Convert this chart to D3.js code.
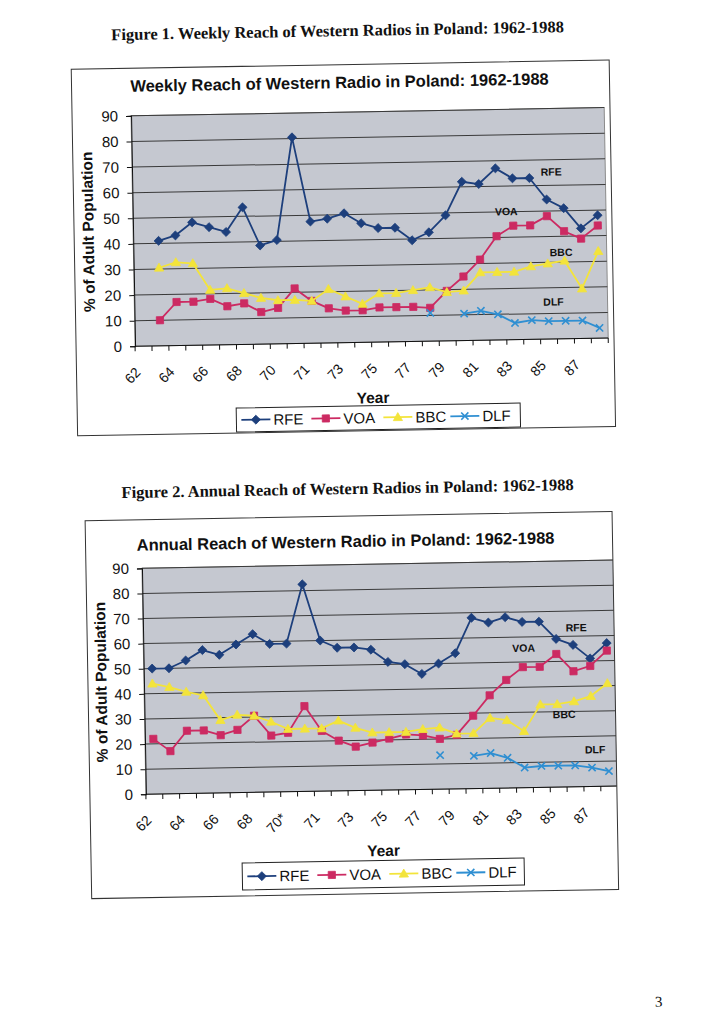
<!DOCTYPE html>
<html><head><meta charset="utf-8">
<script src="https://cdn.jsdelivr.net/npm/d3@7"></script>
<style>body{margin:0;background:#fff}svg{display:block}</style>
</head><body>
<svg id="page" width="706" height="1024"></svg>
<script>
// ---------- DATA ----------
const categories = ["62","63","64","65","66","67","68","69","70a","70b","71","72","73","74","75","76","77","78","79","80","81","82","83","84","85","86","87","88"];
const weeklyTickLabels = ["62","64","66","68","70","71","73","75","77","79","81","83","85","87"];
const annualTickLabels = ["62","64","66","68","70*","71","73","75","77","79","81","83","85","87"];
const yTickValues = [0,10,20,30,40,50,60,70,80,90];
const seriesNames = ["RFE","VOA","BBC","DLF"];

const weeklyRFE = [null,41,43,48,46,44,53.5,38.5,40.5,80.5,47.5,48.5,50.5,46.5,44.5,44.5,39.5,42.5,49,62,61,67,63,63,54.5,51,43,48];
const weeklyVOA = [null,10,17,17,18,15,16,12.5,14,21.5,16.5,13.5,12.5,12.5,13.5,13.5,13.5,13,19.5,25,31.5,40.5,44.5,44.5,48,42,39,44];
const weeklyBBC = [null,30.5,32.5,32,21.5,22,20,18,17,17,16.5,21,18,15,19,19,20,21,19,19.5,26.5,26.5,26.5,28.5,29.5,30.5,19.5,34];
const weeklyDLF = [null,null,null,null,null,null,null,null,null,null,null,null,null,null,null,null,null,11,null,10.5,11.5,10,6.5,7.5,7,7,7,4];

const annualRFE = [50,50,53,57,55,59,63,59,59,82.5,60,57,57,56,51,50,46,50,54,68,66,68,66,66,59,56.5,51,57];
const annualVOA = [22,17,25,25,23,25,30.5,22.5,23.5,34,24,20,17.5,19,20.5,22,21.5,20,21.5,29,37,43,48,48,53,46,48,54];
const annualBBC = [44,42.5,40.5,39,29,31,30.5,28,25,25,25,28,25,23,23,23,24,24.5,22,22,28,27,22.5,33,33,34,36,41];
const annualDLF = [null,null,null,null,null,null,null,null,null,null,null,null,null,null,null,null,null,13.5,null,13,14,12,8,8.5,8.5,8.5,7.5,6];

// ---------- STYLE ----------
const colors = {RFE:"#1d3f7c", VOA:"#cc2a62", BBC:"#f3e43a", DLF:"#2f8fd2"};
const markers = {
  RFE:"M0,-4.5L4.5,0L0,4.5L-4.5,0Z",
  VOA:"M-3.6,-3.6H3.6V3.6H-3.6Z",
  BBC:"M0,-4.6L4.6,3.4L-4.6,3.4Z",
  DLF:"M-3.6,-3.6L3.6,3.6M-3.6,3.6L3.6,-3.6"
};
const SANS = "'Liberation Sans', Arial, sans-serif";
const SERIF = "'Liberation Serif', 'Times New Roman', serif";

const svg = d3.select("#page");
const defs = svg.append("defs");
const root = svg.append("g").attr("transform","rotate(-1,353,512)");

function drawChart(cfg){
  const g = root.append("g");
  const b = cfg.box;
  defs.append("clipPath").attr("id", cfg.id+"clip").append("rect")
    .attr("x", b.x0).attr("y", b.y0).attr("width", b.x1-b.x0).attr("height", b.y1-b.y0);
  g.append("rect").attr("x", b.x0).attr("y", b.y0).attr("width", b.x1-b.x0).attr("height", b.y1-b.y0)
    .attr("fill","#fff");
  const c = g.append("g").attr("clip-path", `url(#${cfg.id}clip)`);
  const p = cfg.plot;
  const x = d3.scaleBand().domain(categories).range([p.left, p.right]);
  const y = d3.scaleLinear().domain([0,90]).range([p.bottom, p.top]);

  // title
  c.append("text").attr("x", cfg.titleX).attr("y", cfg.titleY).attr("text-anchor","middle")
    .attr("font-family", SANS).attr("font-weight","bold").attr("font-size", 16.5).attr("fill","#111")
    .text(cfg.title);

  // plot area
  c.append("rect").attr("x", p.left).attr("y", p.top).attr("width", p.right-p.left).attr("height", p.bottom-p.top)
    .attr("fill","#c5c8d0").attr("stroke","#8a8a8a").attr("stroke-width",1);
  c.append("g").selectAll("line").data(yTickValues.filter(v=>v>0)).join("line")
    .attr("x1", p.left).attr("x2", p.right).attr("y1", d=>y(d)).attr("y2", d=>y(d))
    .attr("stroke","#3a3a3a").attr("stroke-width",1);

  // y axis
  const ya = c.append("g").attr("transform", `translate(${p.left},0)`)
    .call(d3.axisLeft(y).tickValues(yTickValues).tickSize(5).tickPadding(8).tickFormat(d3.format("d")));
  ya.select(".domain").attr("stroke","#111");
  ya.selectAll(".tick line").attr("stroke","#111");
  ya.selectAll("text").attr("font-family", SANS).attr("font-size", 15).attr("fill","#111");

  // x axis
  c.append("line").attr("x1", p.left).attr("x2", p.right).attr("y1", p.bottom).attr("y2", p.bottom).attr("stroke","#111");
  const bounds = categories.map(d=>x(d)).concat([x(categories[categories.length-1]) + x.bandwidth()]);
  c.append("g").selectAll("line").data(bounds).join("line")
    .attr("x1", d=>d).attr("x2", d=>d).attr("y1", p.bottom).attr("y2", p.bottom+5).attr("stroke","#111");
  const labeled = categories.filter((d,i)=>i%2===0).map((d,i)=>({cat:d, label: cfg.tickLabels[i]}));
  c.append("g").selectAll("text").data(labeled).join("text")
    .attr("transform", d=>`translate(${x(d.cat)+x.bandwidth()/2-2.5},${p.bottom+27}) rotate(-45)`)
    .attr("text-anchor","end").attr("font-family", SANS).attr("font-size", 14).attr("fill","#111")
    .text(d=>d.label);

  // axis titles
  c.append("text").attr("transform", `translate(${cfg.yTitleX},${(p.top+p.bottom)/2}) rotate(-90)`)
    .attr("text-anchor","middle").attr("dominant-baseline","central")
    .attr("font-family", SANS).attr("font-weight","bold").attr("font-size", 15.5).attr("fill","#111")
    .text("% of Adult Population");
  c.append("text").attr("x", cfg.xTitleX).attr("y", cfg.xTitleY).attr("text-anchor","middle")
    .attr("font-family", SANS).attr("font-weight","bold").attr("font-size", 15.5).attr("fill","#111")
    .text("Year");

  // series
  const line = d3.line().defined(d=>d.v!=null).x(d=>x(d.c)+x.bandwidth()/2).y(d=>y(d.v));
  cfg.series.forEach((vals, si)=>{
    const name = seriesNames[si];
    const pts = vals.map((v,i)=>({c:categories[i], v}));
    c.append("path").datum(pts).attr("d", line).attr("fill","none")
      .attr("stroke", colors[name]).attr("stroke-width", 1.8).attr("stroke-linejoin","round");
    c.append("g").selectAll("path").data(pts.filter(d=>d.v!=null)).join("path")
      .attr("transform", d=>`translate(${x(d.c)+x.bandwidth()/2},${y(d.v)})`)
      .attr("d", markers[name])
      .attr("fill", name==="DLF" ? "none" : colors[name])
      .attr("stroke", colors[name]).attr("stroke-width", name==="DLF"?1.6:0.8);
  });

  // in-plot labels
  cfg.notes.forEach(n=>{
    c.append("text").attr("x", p.left + (n.at+0.5)*x.step()).attr("y", y(n.value))
      .attr("text-anchor","middle").attr("dominant-baseline","central")
      .attr("font-family", SANS).attr("font-weight","bold").attr("font-size", 10.5).attr("fill","#111")
      .text(n.label);
  });

  // legend
  const L = cfg.legend;
  const lg = c.append("g").attr("transform", `translate(${L.x},${L.y})`);
  lg.append("rect").attr("x",0).attr("y",-L.h/2).attr("width", L.w).attr("height", L.h)
    .attr("fill","#fff").attr("stroke","#222").attr("stroke-width",1);
  const offs = [5, 75, 147, 214];
  seriesNames.forEach((name,i)=>{
    const it = lg.append("g").attr("transform", `translate(${offs[i]},0)`);
    it.append("line").attr("x1",0).attr("x2",29).attr("y1",0).attr("y2",0).attr("stroke", colors[name]).attr("stroke-width",1.8);
    it.append("path").attr("transform","translate(14.5,0)").attr("d", markers[name])
      .attr("fill", name==="DLF"?"none":colors[name]).attr("stroke", colors[name]).attr("stroke-width", name==="DLF"?1.6:0.8);
    it.append("text").attr("x", 32).attr("y", 0).attr("dominant-baseline","central")
      .attr("font-family", SANS).attr("font-size", 15).attr("fill","#111").text(name);
  });

  // border
  g.append("rect").attr("x", b.x0).attr("y", b.y0).attr("width", b.x1-b.x0).attr("height", b.y1-b.y0)
    .attr("fill","none").attr("stroke","#333").attr("stroke-width",1);
}

// headings
root.append("text").attr("x", 346).attr("y", 36).attr("text-anchor","middle")
  .attr("font-family", SERIF).attr("font-weight","bold").attr("font-size", 16.5).attr("fill","#111")
  .text("Figure 1. Weekly Reach of Western Radios in Poland: 1962-1988");
root.append("text").attr("x", 348).attr("y", 494).attr("text-anchor","middle")
  .attr("font-family", SERIF).attr("font-weight","bold").attr("font-size", 16.5).attr("fill","#111")
  .text("Figure 2. Annual Reach of Western Radios in Poland: 1962-1988");
root.append("text").attr("x", 650).attr("y", 1012).attr("text-anchor","middle")
  .attr("font-family", SERIF).attr("font-size", 15).attr("fill","#111").text("3");

drawChart({
  id:"w", box:{x0:79, y0:64.5, x1:617, y1:431},
  title:"Weekly Reach of Western Radio in Poland: 1962-1988", titleX:347, titleY:88,
  plot:{left:138, right:611.2, top:112, bottom:342.5},
  tickLabels: weeklyTickLabels,
  yTitleX: 93, xTitleX: 375, xTitleY: 403.5,
  series:[weeklyRFE, weeklyVOA, weeklyBBC, weeklyDLF],
  notes:[{label:"RFE", at:24.3, value:65.4},{label:"VOA", at:21.6, value:50.2},{label:"BBC", at:24.8, value:33.9},{label:"DLF", at:24.3, value:14.6}],
  legend:{x:238, y:418, w:284, h:24}
});
drawChart({
  id:"a", box:{x0:85, y0:516, x1:612, y1:894},
  title:"Annual Reach of Western Radio in Poland: 1962-1988", titleX:345, titleY:547,
  plot:{left:141, right:612.8, top:564.6, bottom:790.6},
  tickLabels: annualTickLabels,
  yTitleX: 98, xTitleX: 377.6, xTitleY: 856.5,
  series:[annualRFE, annualVOA, annualBBC, annualDLF],
  notes:[{label:"RFE", at:25.2, value:63.5},{label:"VOA", at:22.06, value:55.7},{label:"BBC", at:24.4, value:29.0},{label:"DLF", at:26.2, value:14.8}],
  legend:{x:236, y:874.5, w:282, h:27}
});
</script>
</body></html>
